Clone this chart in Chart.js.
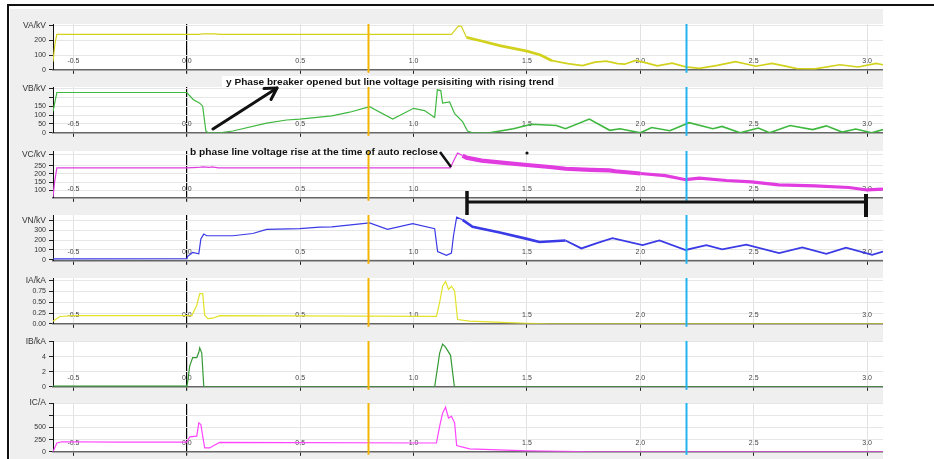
<!DOCTYPE html>
<html>
<head>
<meta charset="utf-8">
<script src="https://cdn.jsdelivr.net/npm/chart.js@4.4.0/dist/chart.umd.min.js"></script>
<style>
  body { margin: 0; background: #fff; width: 934px; height: 459px; overflow: hidden; position: relative; font-family: "Liberation Sans", Arial, sans-serif; }
  #frame { position: absolute; left: 7px; top: 4px; width: 927px; height: 460px; border-left: 2px solid #111; border-top: 2px solid #111; }
  #bg { position: absolute; left: 10px; top: 9px; width: 873px; height: 450px; background: #efefef; }
  .panel { position: absolute; left: 10px; width: 873px; }
  #notes { position: absolute; left: 0; top: 0; pointer-events: none; }
</style>
</head>
<body>
<div id="frame"></div>
<div id="bg"></div>

<svg id="notes" width="934" height="459"></svg>

<script>
// time axis (s)
const xTicks = [-0.5, 0, 0.5, 1, 1.5, 2, 2.5, 3];
const xTickLabels = ["-0.5", "0.0", "0.5", "1.0", "1.5", "2.0", "2.5", "3.0"];
const markerTimes = [0.8, 2.2];

// VA / kV
const vaTime = [-0.59, -0.581, -0.573, 0, 0.057, 0.07, 0.123, 0.145, 1.167, 1.181, 1.198, 1.211, 1.233, 1.30, 1.38, 1.50, 1.56, 1.61, 1.68, 1.745, 1.80, 1.85, 1.90, 1.93, 1.98, 2.03, 2.075, 2.14, 2.2, 2.26, 2.34, 2.42, 2.51, 2.58, 2.64, 2.69, 2.77, 2.88, 2.96, 3.04, 3.07];
const vaValue = [55, 180, 240, 240, 240, 244, 243, 240, 240, 265, 297, 295, 220, 195, 163, 127, 100, 62, 42, 28, 52, 58, 42, 38, 63, 45, 27, 45, 20, 10, 30, 55, 24, 43, 25, 8, 6, 34, 19, 43, 34];
const vaTicks = [0, 100, 200, 300];
const vaTickLabels = ["0", "100", "200", "VA/kV"];

// VB / kV
const vbTime = [-0.59, -0.585, -0.573, 0, 0.028, 0.057, 0.07, 0.084, 0.093, 0.145, 0.203, 0.352, 0.44, 0.498, 0.64, 0.718, 0.806, 0.908, 1.0, 1.048, 1.093, 1.105, 1.12, 1.128, 1.159, 1.181, 1.216, 1.238, 1.26, 1.335, 1.44, 1.52, 1.63, 1.67, 1.775, 1.865, 1.91, 2.0, 2.05, 2.13, 2.215, 2.32, 2.36, 2.44, 2.52, 2.57, 2.66, 2.76, 2.82, 2.89, 2.95, 3.02, 3.07];
const vbValue = [120, 152, 227, 227, 188, 167, 150, 10, 0, 0, 10, 54, 72, 77, 95, 116, 147, 77, 138, 125, 86, 242, 238, 167, 174, 108, 63, 10, 0, 0, 23, 48, 41, 23, 77, 14, 23, 0, 30, 12, 57, 23, 36, 0, 27, 0, 41, 18, 39, 4, 21, 0, 18];
const vbTicks = [0, 50, 100, 150, 200, 250];
const vbTickLabels = ["0", "50", "100", "150", "", "VB/kV"];

// VC / kV
const vcTime = [-0.59, -0.583, -0.573, 0, 0.05, 0.07, 0.1, 0.11, 0.14, 1.162, 1.18, 1.194, 1.216, 1.233, 1.30, 1.40, 1.50, 1.60, 1.67, 1.78, 1.863, 1.89, 2.0, 2.11, 2.2, 2.26, 2.38, 2.49, 2.61, 2.77, 2.92, 3.0, 3.07];
const vcValue = [60, 150, 238, 238, 240, 244, 240, 243, 238, 238, 290, 328, 313, 300, 282, 268, 255, 243, 232, 225, 222, 217, 203, 190, 165, 175, 160, 152, 133, 127, 117, 102, 107];
const vcTicks = [100, 150, 200, 250, 320];
const vcTickLabels = ["100", "150", "200", "250", "VC/kV"];

// VN / kV
const vnTime = [-0.59, 0, 0.004, 0.026, 0.053, 0.062, 0.075, 0.088, 0.203, 0.291, 0.352, 0.498, 0.586, 0.64, 0.806, 0.885, 0.996, 1.093, 1.106, 1.145, 1.167, 1.176, 1.19, 1.216, 1.26, 1.38, 1.5, 1.555, 1.67, 1.74, 1.815, 1.877, 2.01, 2.084, 2.2, 2.291, 2.361, 2.467, 2.612, 2.714, 2.82, 2.907, 3.022, 3.07];
const vnValue = [10, 12, 36, 75, 61, 213, 262, 245, 245, 268, 310, 317, 333, 336, 375, 310, 369, 317, 84, 46, 68, 245, 434, 407, 336, 278, 213, 181, 197, 116, 175, 220, 149, 197, 100, 149, 107, 155, 68, 126, 61, 123, 51, 84];
const vnTicks = [0, 100, 200, 300, 400];
const vnTickLabels = ["0", "100", "200", "300", "VN/kV"];

// IA / kA
const iaTime = [-0.59, -0.56, -0.5, 0, 0.022, 0.044, 0.057, 0.07, 0.079, 0.093, 0.115, 0.145, 1.101, 1.115, 1.128, 1.141, 1.154, 1.167, 1.181, 1.194, 1.247, 1.5, 1.6, 3.07];
const iaValue = [0.06, 0.17, 0.19, 0.19, 0.19, 0.43, 0.70, 0.70, 0.20, 0.12, 0.13, 0.19, 0.17, 0.50, 0.87, 0.98, 0.80, 0.87, 0.76, 0.10, 0.06, 0.01, 0, 0];
const iaTicks = [0, 0.25, 0.5, 0.75, 1.0];
const iaTickLabels = ["0.00", "0.25", "0.50", "0.75", "IA/kA"];

// IB / kA
const ibTime = [-0.59, 0, 0.004, 0.013, 0.026, 0.044, 0.053, 0.057, 0.066, 0.075, 1.093, 1.115, 1.128, 1.141, 1.163, 1.18, 3.07];
const ibValue = [0.1, 0.1, 0.7, 2.8, 3.9, 3.9, 4.6, 5.2, 4.5, 0, 0, 4.5, 5.7, 5.3, 4.2, 0, 0];
const ibTicks = [0, 2, 4, 6];
const ibTickLabels = ["0", "2", "4", "IB/kA"];

// IC / A
const icTime = [-0.59, -0.573, -0.551, -0.3, 0, 0.013, 0.044, 0.053, 0.062, 0.07, 0.079, 0.101, 0.123, 0.145, 1.101, 1.115, 1.128, 1.141, 1.154, 1.167, 1.181, 1.19, 1.247, 1.5, 1.8, 3.07];
const icValue = [0, 180, 206, 200, 200, 307, 320, 593, 560, 327, 80, 80, 140, 193, 180, 527, 793, 913, 693, 727, 593, 127, 60, 20, 0, 0];
const icTicks = [0, 250, 500, 750, 1000];
const icTickLabels = ["0", "250", "500", "", "IC/A"];

const panels = [
  { t: vaTime, v: vaValue, ticks: vaTicks, labels: vaTickLabels, min: 0, max: 310, color: "#d2d21e", top: 10, areaTop: 24, areaBottom: 72, bottom: 77, ripple: [[1.22, 1.6, 2.8], [1.6, 3.2, 1.7]] },
  { t: vbTime, v: vbValue, ticks: vbTicks, labels: vbTickLabels, min: 0, max: 258, color: "#3fb83f", top: 77, areaTop: 87, areaBottom: 135, bottom: 140, ripple: [[1.3, 3.2, 1.6]] },
  { t: vcTime, v: vcValue, ticks: vcTicks, labels: vcTickLabels, min: 54, max: 341, color: "#e03ce0", top: 140, areaTop: 151, areaBottom: 201, bottom: 205, ripple: [[1.2, 2.0, 4.2], [2.0, 3.2, 3.2]] },
  { t: vnTime, v: vnValue, ticks: vnTicks, labels: vnTickLabels, min: -10, max: 456, color: "#3a3ae6", top: 205, areaTop: 215, areaBottom: 263, bottom: 268, ripple: [[1.2, 1.6, 2.6], [1.6, 3.2, 1.8]] },
  { t: iaTime, v: iaValue, ticks: iaTicks, labels: iaTickLabels, min: 0, max: 1.062, color: "#e2e22a", top: 268, areaTop: 278, areaBottom: 326, bottom: 331, ripple: [] },
  { t: ibTime, v: ibValue, ticks: ibTicks, labels: ibTickLabels, min: 0, max: 6.11, color: "#359a35", top: 331, areaTop: 341, areaBottom: 389, bottom: 394, ripple: [] },
  { t: icTime, v: icValue, ticks: icTicks, labels: icTickLabels, min: 0, max: 1000, color: "#ff44ff", top: 394, areaTop: 403, areaBottom: 453, bottom: 459, ripple: [] }
];

function rippleWidth(ripple, x) {
  for (const r of ripple) {
    if (x >= r[0] && x < r[1]) return r[2];
  }
  return 1.2;
}

// white plot area, in-plot time labels and marker lines
const stripPlugin = {
  id: "strip",
  beforeDraw(chart) {
    const { ctx, chartArea: a } = chart;
    ctx.save();
    ctx.fillStyle = "#ffffff";
    ctx.fillRect(a.left, a.top, a.right - a.left, a.bottom - a.top);
    ctx.restore();
  },
  beforeDatasetsDraw(chart) {
    const { ctx, chartArea: a, scales } = chart;
    ctx.save();
    ctx.font = "7px 'Liberation Sans', Arial, sans-serif";
    ctx.fillStyle = "#444";
    ctx.textAlign = "center";
    ctx.textBaseline = "middle";
    xTicks.forEach((v, i) => {
      ctx.fillText(xTickLabels[i], scales.x.getPixelForValue(v), a.bottom - 9);
    });
    ctx.restore();
  },
  afterDatasetsDraw(chart) {
    const { ctx, chartArea: a, scales } = chart;
    const colors = ["#f5b400", "#22b4ee"];
    ctx.save();
    markerTimes.forEach((t, i) => {
      const x = Math.round(scales.x.getPixelForValue(t)) + 0.5;
      ctx.strokeStyle = colors[i];
      ctx.lineWidth = 2;
      ctx.beginPath();
      ctx.moveTo(x, a.top);
      ctx.lineTo(x, a.bottom + 3);
      ctx.stroke();
    });
    ctx.restore();
  }
};

function makePanel(p) {
  const h = p.bottom - p.top;
  const wrap = document.createElement("div");
  wrap.className = "panel";
  wrap.style.top = p.top + "px";
  wrap.style.height = h + "px";
  const cv = document.createElement("canvas");
  cv.width = 873;
  cv.height = h;
  wrap.appendChild(cv);
  document.body.insertBefore(wrap, document.getElementById("notes"));

  const last = p.ticks.length - 1;
  new Chart(cv, {
    type: "line",
    data: {
      datasets: [{
        data: p.t.map((t, i) => ({ x: t, y: p.v[i] })),
        borderColor: p.color,
        borderWidth: 1.2,
        pointRadius: 0,
        tension: 0,
        segment: { borderWidth: (c) => rippleWidth(p.ripple, c.p0.parsed.x) }
      }]
    },
    options: {
      responsive: false,
      animation: false,
      events: [],
      layout: { padding: { top: p.areaTop - p.top, left: 0, right: 0, bottom: 0 } },
      plugins: { legend: { display: false }, tooltip: { enabled: false } },
      scales: {
        x: {
          type: "linear",
          min: -0.59,
          max: 3.07,
          afterBuildTicks: (s) => { s.ticks = xTicks.map((v) => ({ value: v })); },
          afterFit: (s) => { s.height = p.bottom - p.areaBottom; },
          ticks: { display: false },
          grid: {
            color: (c) => (c.tick && c.tick.value === 0 ? "#000" : "#e2e2e2"),
            lineWidth: (c) => (c.tick && c.tick.value === 0 ? 1.2 : 1),
            tickColor: "#222",
            tickLength: 4
          },
          border: { color: "#666", width: 1.5 }
        },
        y: {
          min: p.min,
          max: p.max,
          afterBuildTicks: (s) => { s.ticks = p.ticks.map((v) => ({ value: v })); },
          afterFit: (s) => { s.width = 43; },
          ticks: {
            autoSkip: false,
            padding: 3,
            color: "#333",
            font: (c) => ({ family: "'Liberation Sans', Arial, sans-serif", size: c.index === last ? 8.5 : 7 }),
            callback: (v, i) => p.labels[i]
          },
          grid: { color: "#e6e6e6", tickColor: "#222", tickLength: 4 },
          border: { color: "#111", width: 1 }
        }
      }
    },
    plugins: [stripPlugin]
  });
}

panels.forEach(makePanel);

// hand-drawn annotations on the record
const svg = document.getElementById("notes");
svg.innerHTML = `
  <rect x="222" y="76" width="336" height="11" fill="#fff"/>
  <text x="226" y="84.5" font-family="Liberation Sans, Arial, sans-serif" font-weight="bold" font-size="9.5" textLength="328" lengthAdjust="spacingAndGlyphs" fill="#111">y Phase breaker opened but line voltage persisiting with rising trend</text>
  <line x1="213" y1="129" x2="277" y2="88" stroke="#111" stroke-width="3" stroke-linecap="round"/>
  <polyline points="264,88.6 277,88 271,99.5" fill="none" stroke="#111" stroke-width="3" stroke-linecap="round" stroke-linejoin="round"/>
  <text x="190" y="154.5" font-family="Liberation Sans, Arial, sans-serif" font-weight="bold" font-size="9.5" textLength="248" lengthAdjust="spacingAndGlyphs" fill="#111">b phase line voltage rise at the time of auto reclose</text>
  <line x1="440" y1="152" x2="451" y2="167" stroke="#111" stroke-width="2.5"/>
  <circle cx="527" cy="153" r="1.6" fill="#111"/>
  <line x1="466" y1="202" x2="867" y2="202" stroke="#111" stroke-width="3"/>
  <line x1="467" y1="191" x2="467" y2="215" stroke="#111" stroke-width="3.5"/>
  <line x1="866" y1="194" x2="866" y2="217" stroke="#111" stroke-width="4"/>
`;
</script>
</body>
</html>
